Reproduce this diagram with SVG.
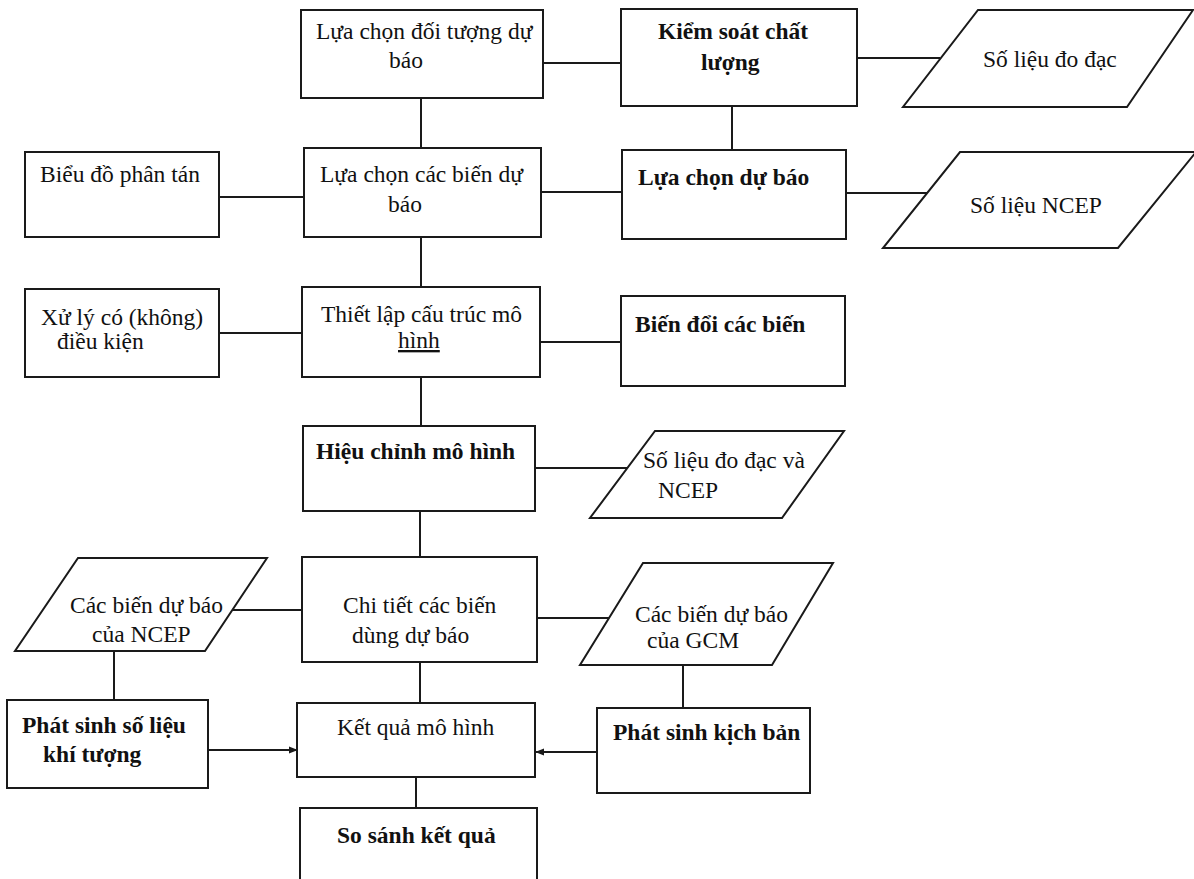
<svg xmlns="http://www.w3.org/2000/svg" width="1194" height="879" viewBox="0 0 1194 879">
  <style>
    .box { fill: #ffffff; stroke: #1a1a1a; stroke-width: 2; }
    .link { fill: none; stroke: #1a1a1a; stroke-width: 2; }
    .t { font-family: "Liberation Serif", "Times New Roman", serif; font-size: 23.5px; fill: #111111; }
    .b { font-weight: bold; }
  </style>
  <defs>
    <marker id="arrow" viewBox="0 0 10 10" refX="9" refY="5" markerWidth="9" markerHeight="9" markerUnits="userSpaceOnUse" orient="auto">
      <path d="M0,1 L10,5 L0,9 Z" fill="#1a1a1a"/>
    </marker>
  </defs>
  <rect width="1194" height="879" fill="#ffffff"/>

  <!-- connectors -->
  <g id="connectors">
    <line class="link" x1="421" y1="98" x2="421" y2="148"/>
    <line class="link" x1="543" y1="63" x2="621" y2="63"/>
    <line class="link" x1="857" y1="58" x2="940" y2="58"/>
    <line class="link" x1="732" y1="106" x2="732" y2="150"/>
    <line class="link" x1="219" y1="197" x2="304" y2="197"/>
    <line class="link" x1="541" y1="192" x2="622" y2="192"/>
    <line class="link" x1="846" y1="193" x2="928" y2="193"/>
    <line class="link" x1="421" y1="237" x2="421" y2="287"/>
    <line class="link" x1="219" y1="333" x2="302" y2="333"/>
    <line class="link" x1="540" y1="342" x2="621" y2="342"/>
    <line class="link" x1="421" y1="377" x2="421" y2="426"/>
    <line class="link" x1="535" y1="468" x2="627" y2="468"/>
    <line class="link" x1="420" y1="511" x2="420" y2="557"/>
    <line class="link" x1="232" y1="610" x2="302" y2="610"/>
    <line class="link" x1="537" y1="618" x2="609" y2="618"/>
    <line class="link" x1="114" y1="651" x2="114" y2="700"/>
    <line class="link" x1="420" y1="662" x2="420" y2="703"/>
    <line class="link" x1="683" y1="665" x2="683" y2="708"/>
    <line class="link" x1="208" y1="750" x2="297" y2="750" marker-end="url(#arrow)"/>
    <line class="link" x1="597" y1="752" x2="536" y2="752" marker-end="url(#arrow)"/>
    <line class="link" x1="416" y1="777" x2="416" y2="808"/>
  </g>

  <!-- top row -->
  <g id="chon-doi-tuong">
    <rect class="box" x="301" y="10" width="242" height="88"/>
    <text class="t" x="316" y="39">Lựa chọn đối tượng dự</text>
    <text class="t" x="389" y="68">báo</text>
  </g>
  <g id="kiem-soat">
    <rect class="box" x="621" y="9" width="236" height="97"/>
    <text class="t b" x="658" y="39">Kiểm soát chất</text>
    <text class="t b" x="701" y="70">lượng</text>
  </g>
  <g id="so-lieu-do-dac">
    <polygon class="box" points="978,10 1193,10 1127,107 903,107"/>
    <text class="t" x="983" y="67">Số liệu đo đạc</text>
  </g>

  <!-- second row -->
  <g id="bieu-do">
    <rect class="box" x="25" y="152" width="194" height="85"/>
    <text class="t" x="40" y="182">Biểu đồ phân tán</text>
  </g>
  <g id="chon-bien">
    <rect class="box" x="304" y="148" width="237" height="89"/>
    <text class="t" x="320" y="182">Lựa chọn các biến dự</text>
    <text class="t" x="388" y="212">báo</text>
  </g>
  <g id="chon-du-bao">
    <rect class="box" x="622" y="150" width="224" height="89"/>
    <text class="t b" x="638" y="185">Lựa chọn dự báo</text>
  </g>
  <g id="so-lieu-ncep">
    <polygon class="box" points="960,152 1196,152 1118,248 883,248"/>
    <text class="t" x="970" y="213">Số liệu NCEP</text>
  </g>

  <!-- third row -->
  <g id="xu-ly">
    <rect class="box" x="25" y="289" width="194" height="88"/>
    <text class="t" x="41" y="325">Xử lý có (không)</text>
    <text class="t" x="57" y="349">điều kiện</text>
  </g>
  <g id="cau-truc">
    <rect class="box" x="302" y="287" width="238" height="90"/>
    <text class="t" x="321" y="322">Thiết lập cấu trúc mô</text>
    <text class="t" x="398" y="348" text-decoration="underline">hình</text>
  </g>
  <g id="bien-doi">
    <rect class="box" x="621" y="296" width="224" height="90"/>
    <text class="t b" x="635" y="332">Biến đổi các biến</text>
  </g>

  <!-- calibration -->
  <g id="hieu-chinh">
    <rect class="box" x="303" y="426" width="232" height="85"/>
    <text class="t b" x="316" y="459">Hiệu chỉnh mô hình</text>
  </g>
  <g id="so-lieu-do-dac-ncep">
    <polygon class="box" points="655,431 844,431 782,518 590,518"/>
    <text class="t" x="643" y="468">Số liệu đo đạc và</text>
    <text class="t" x="658" y="498">NCEP</text>
  </g>

  <!-- predictor row -->
  <g id="bien-ncep">
    <polygon class="box" points="78,558 267,558 205,651 15,651"/>
    <text class="t" x="70" y="613">Các biến dự báo</text>
    <text class="t" x="92" y="642">của NCEP</text>
  </g>
  <g id="chi-tiet">
    <rect class="box" x="302" y="557" width="235" height="105"/>
    <text class="t" x="343" y="613">Chi tiết các biến</text>
    <text class="t" x="352" y="643">dùng dự báo</text>
  </g>
  <g id="bien-gcm">
    <polygon class="box" points="643,563 833,563 772,665 580,665"/>
    <text class="t" x="635" y="622">Các biến dự báo</text>
    <text class="t" x="647" y="648">của GCM</text>
  </g>

  <!-- generation and results -->
  <g id="phat-sinh-so-lieu">
    <rect class="box" x="7" y="700" width="201" height="88"/>
    <text class="t b" x="22" y="733">Phát sinh số liệu</text>
    <text class="t b" x="43" y="762">khí tượng</text>
  </g>
  <g id="ket-qua">
    <rect class="box" x="297" y="703" width="238" height="74"/>
    <text class="t" x="337" y="735">Kết quả mô hình</text>
  </g>
  <g id="phat-sinh-kich-ban">
    <rect class="box" x="597" y="708" width="213" height="85"/>
    <text class="t b" x="613" y="740">Phát sinh kịch bản</text>
  </g>
  <g id="so-sanh">
    <rect class="box" x="300" y="808" width="237" height="76"/>
    <text class="t b" x="337" y="843">So sánh kết quả</text>
  </g>
</svg>
